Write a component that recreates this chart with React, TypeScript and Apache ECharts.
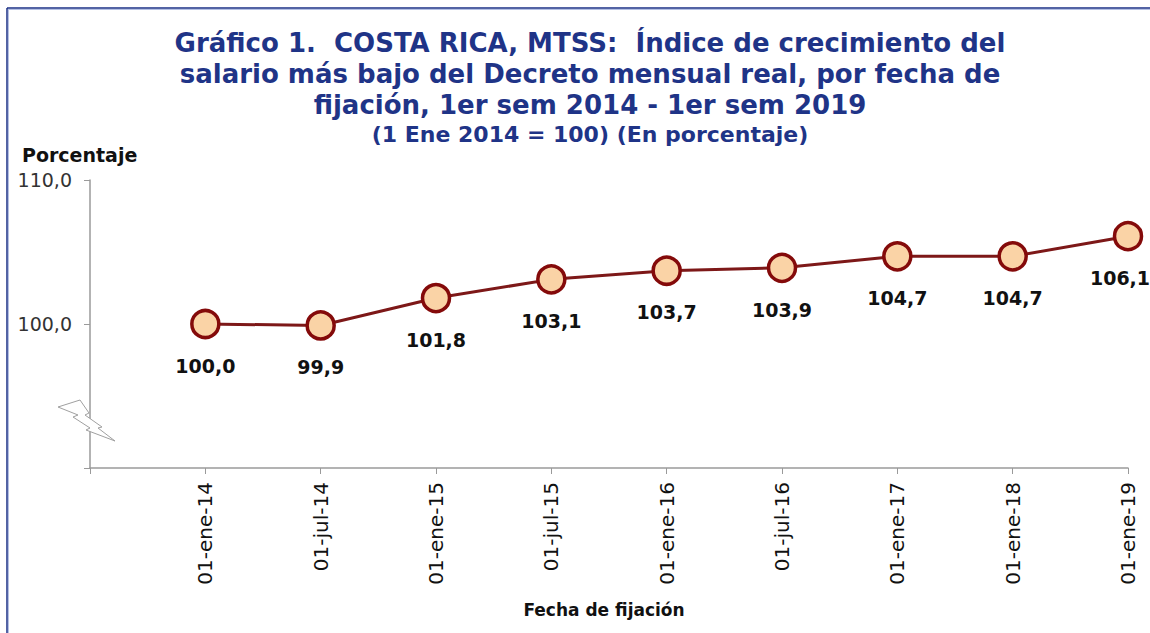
import React, { useEffect, useRef } from "react";
import * as echarts from "echarts";

const categories = [
  "01-ene-14",
  "01-jul-14",
  "01-ene-15",
  "01-jul-15",
  "01-ene-16",
  "01-jul-16",
  "01-ene-17",
  "01-ene-18",
  "01-ene-19",
];
const values = [100.0, 99.9, 101.8, 103.1, 103.7, 103.9, 104.7, 104.7, 106.1];
const titleLines = [
  "Gráfico 1.  COSTA RICA, MTSS:  Índice de crecimiento del",
  "salario más bajo del Decreto mensual real, por fecha de",
  "fijación, 1er sem 2014 - 1er sem 2019",
];
const subtitle = "(1 Ene 2014 = 100) (En porcentaje)";
const yAxisName = "Porcentaje";
const xAxisName = "Fecha de fijación";

const fmt = (v: number) => v.toFixed(1).replace(".", ",");

export default function App() {
  const ref = useRef<HTMLDivElement>(null);
  useEffect(() => {
    if (!ref.current) return;
    const chart = echarts.init(ref.current, null, { renderer: "svg" });
    const navy = "#1F3487";
    const seriesData = values.map((v, i) =>
      i === values.length - 1 ? { value: v, label: { offset: [-8, 0] } } : v
    );
    chart.setOption({
      animation: false,
      backgroundColor: "#ffffff",
      textStyle: { fontFamily: "DejaVu Sans" },
      grid: { left: 90, right: 22, top: 180, bottom: 165, containLabel: false },
      graphic: [
        { type: "line", shape: { x1: 7, y1: 8, x2: 1150, y2: 8 }, style: { stroke: "#1A2F86", lineWidth: 1.5 } },
        { type: "line", shape: { x1: 8, y1: 9.5, x2: 1150, y2: 9.5 }, style: { stroke: "#B4C0E4", lineWidth: 1 } },
        { type: "line", shape: { x1: 7, y1: 8, x2: 7, y2: 633 }, style: { stroke: "#1A2F86", lineWidth: 1.5 } },
        { type: "line", shape: { x1: 8.5, y1: 9, x2: 8.5, y2: 633 }, style: { stroke: "#B4C0E4", lineWidth: 1 } },
        ...titleLines.map((t, i) => ({
          type: "text",
          x: 590,
          y: 43 + i * 31,
          style: {
            text: t,
            fill: navy,
            font: "bold 26px 'DejaVu Sans'",
            textAlign: "center",
            textVerticalAlign: "middle",
          },
        })),
        {
          type: "text",
          x: 590,
          y: 134,
          style: {
            text: subtitle,
            fill: navy,
            font: "bold 22px 'DejaVu Sans'",
            textAlign: "center",
            textVerticalAlign: "middle",
          },
        },
        {
          type: "text",
          x: 22,
          y: 155,
          style: {
            text: yAxisName,
            fill: "#111",
            font: "bold 19px 'DejaVu Sans'",
            textAlign: "left",
            textVerticalAlign: "middle",
          },
        },
        {
          type: "text",
          x: 604,
          y: 610,
          style: {
            text: xAxisName,
            fill: "#111",
            font: "bold 17px 'DejaVu Sans'",
            textAlign: "center",
            textVerticalAlign: "middle",
          },
        },
        {
          type: "polygon",
          shape: {
            points: [
              [58, 407], [80, 400], [89, 413], [85, 415], [102, 427], [98, 428], [115, 441],
              [86, 430], [90, 428], [73, 417], [78, 415],
            ],
          },
          style: { fill: "#ffffff", stroke: "#A0A0A0", lineWidth: 1 },
          z: 10,
        },
      ],
      xAxis: {
        type: "category",
        boundaryGap: false,
        data: ["", ...categories],
        axisLine: { lineStyle: { color: "#9A9A9A", width: 1.5 } },
        axisTick: { show: true, length: 6, alignWithLabel: true, lineStyle: { color: "#9A9A9A" } },
        axisLabel: {
          rotate: 90,
          margin: 14,
          color: "#111",
          fontSize: 20,
          fontFamily: "DejaVu Sans",
          interval: 0,
        },
      },
      yAxis: {
        type: "value",
        min: 90,
        max: 110,
        interval: 10,
        splitLine: { show: false },
        axisLine: { show: true, lineStyle: { color: "#9A9A9A", width: 1.5 } },
        axisTick: { show: true, length: 6, lineStyle: { color: "#9A9A9A" } },
        axisLabel: {
          color: "#333",
          fontSize: 19,
          fontFamily: "DejaVu Sans",
          margin: 18,
          formatter: (v: number) => (v === 90 ? "" : fmt(v)),
        },
      },
      series: [
        {
          type: "line",
          data: ["-", ...seriesData],
          symbol: "circle",
          symbolSize: 27,
          lineStyle: { color: "#7D1818", width: 3 },
          itemStyle: { color: "#FAD3A6", borderColor: "#840A0A", borderWidth: 3.5 },
          label: {
            show: true,
            position: "bottom",
            distance: 17,
            color: "#111",
            fontWeight: "bold",
            fontSize: 19,
            fontFamily: "DejaVu Sans",
            formatter: (p: any) => fmt(p.value),
          },
        },
      ],
    });
    return () => chart.dispose();
  }, []);
  return (
    <div
      ref={ref}
      style={{ position: "fixed", left: 0, top: 0, width: 1150, height: 633 }}
    />
  );
}
